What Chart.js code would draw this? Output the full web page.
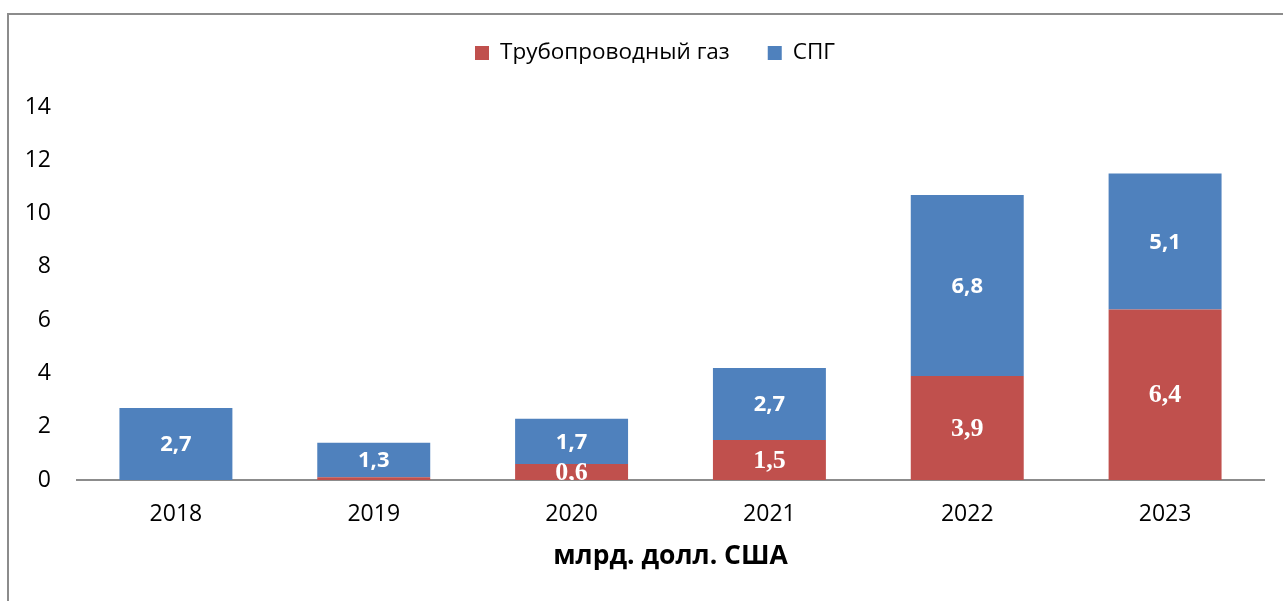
<!DOCTYPE html>
<html>
<head>
<meta charset="utf-8">
<script src="https://cdn.jsdelivr.net/npm/chart.js@4.4.0/dist/chart.umd.min.js"></script>
<style>
  html, body { margin: 0; padding: 0; background: #fff; overflow: hidden; }
  #wrap { position: relative; width: 1283px; height: 601px; }
  #frame { position: absolute; left: 7px; top: 13px; width: 1400px; height: 700px;
           border: 2px solid #8c8c8c; pointer-events: none; }
</style>
</head>
<body>
<div id="wrap">
  <canvas id="myChart" width="1283" height="601"></canvas>
  <div id="frame"></div>
</div>
<script>
const years = ['2018', '2019', '2020', '2021', '2022', '2023'];
const pipeGas = [0, 0.1, 0.6, 1.5, 3.9, 6.4];   // Трубопроводный газ
const lng = [2.7, 1.3, 1.7, 2.7, 6.8, 5.1];     // СПГ
const yTicks = [0, 2, 4, 6, 8, 10, 12, 14];

const sans = "'Open Sans', 'Noto Sans', sans-serif";

// value labels in the middle of each segment
const segmentLabels = {
    id: 'segmentLabels',
    afterDatasetsDraw(chart) {
        const c = chart.ctx;
        const area = chart.chartArea;
        c.save();
        c.beginPath();
        c.rect(area.left, area.top, area.right - area.left, area.bottom - area.top);
        c.clip();
        c.fillStyle = '#fff';
        c.textAlign = 'center';
        c.textBaseline = 'middle';
        chart.data.datasets.forEach((ds, i) => {
            c.font = i === 0 ? "bold 26px 'Liberation Serif', serif" : "bold 22px " + sans;
            chart.getDatasetMeta(i).data.forEach((bar, j) => {
                const v = ds.data[j];
                if (v < 0.3) return;
                c.fillText(v.toFixed(1).replace('.', ','), bar.x, (bar.y + bar.base) / 2 + 1);
            });
        });
        c.restore();
    }
};

// legend drawn above the plot
const topLegend = {
    id: 'topLegend',
    afterDraw(chart) {
        const c = chart.ctx;
        c.save();
        c.font = '22.5px ' + sans;
        c.textBaseline = 'middle';
        const box = 14, gapBox = 11, gapItem = 38;
        const items = chart.data.datasets.map(ds => ({ text: ds.label, color: ds.backgroundColor, w: c.measureText(ds.label).width }));
        let total = 0;
        items.forEach((it, k) => { total += box + gapBox + it.w + (k ? gapItem : 0); });
        let x = 655 - total / 2;
        const y = 53;
        items.forEach(it => {
            c.fillStyle = it.color;
            c.fillRect(x, y - box / 2, box, box);
            x += box + gapBox;
            c.fillStyle = '#000';
            c.fillText(it.text, x, y);
            x += it.w + gapItem;
        });
        c.restore();
    }
};

const ctx = document.getElementById('myChart').getContext('2d');

new Chart(ctx, {
    type: 'bar',
    data: {
        labels: years,
        datasets: [
            {
                label: 'Трубопроводный газ',
                data: pipeGas,
                backgroundColor: '#C0504D',
                categoryPercentage: 1,
                barPercentage: 0.571
            },
            {
                label: 'СПГ',
                data: lng,
                backgroundColor: '#4F81BD',
                categoryPercentage: 1,
                barPercentage: 0.571
            }
        ]
    },
    options: {
        responsive: false,
        animation: false,
        layout: { padding: { top: 107, right: 19, bottom: 0, left: 0 } },
        plugins: {
            legend: { display: false },
            tooltip: { enabled: false }
        },
        scales: {
            x: {
                stacked: true,
                grid: { display: false, drawTicks: false },
                border: { display: true, color: '#8c8c8c', width: 2 },
                ticks: { color: '#000', font: { family: sans, size: 23 }, padding: 21 },
                title: {
                    display: true,
                    text: 'млрд. долл. США',
                    color: '#000',
                    font: { family: sans, size: 26.5, weight: 'bold' },
                    padding: { top: 0, bottom: 29 }
                },
                afterFit(scale) { scale.height = 121; }
            },
            y: {
                stacked: true,
                min: 0,
                max: 14,
                grid: { display: false, drawTicks: false },
                border: { display: false },
                afterBuildTicks(scale) { scale.ticks = yTicks.map(v => ({ value: v })); },
                ticks: { color: '#000', font: { family: sans, size: 23 }, padding: 26 },
                afterFit(scale) { scale.width = 77; }
            }
        }
    },
    plugins: [segmentLabels, topLegend]
});
</script>
</body>
</html>
